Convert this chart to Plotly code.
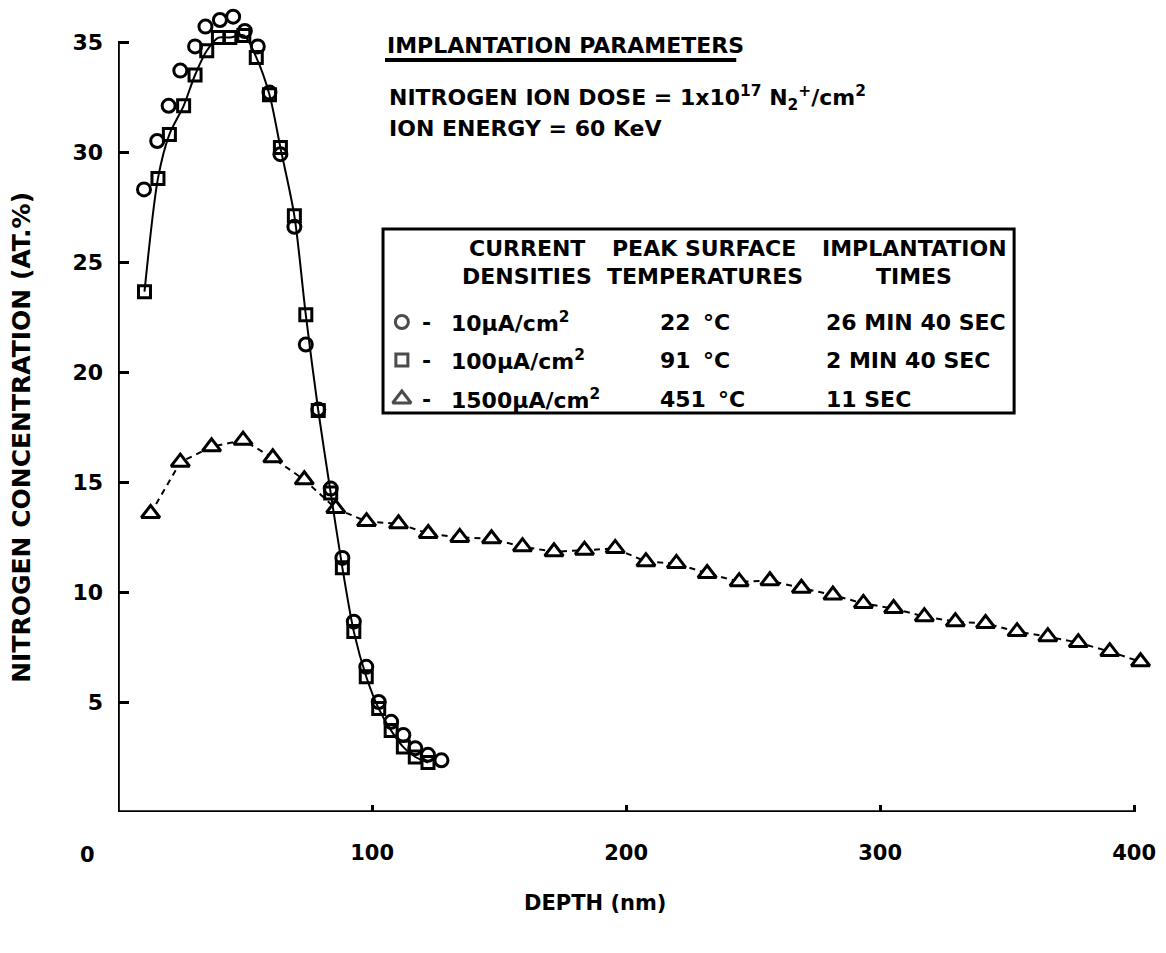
import plotly.graph_objects as go

W, H = 1166, 953

# Depth profiles: depth (nm) vs nitrogen concentration (at.%)
depth_10 = [10.2, 15.4, 19.9, 24.5, 30.3, 34.4, 40.1, 45.3, 49.9, 55.0, 59.6, 63.9,
            69.4, 73.9, 78.8, 83.7, 88.3, 92.8, 97.7, 102.6, 107.5, 112.3, 117.0,
            122.0, 127.3]
conc_10 = [28.3, 30.5, 32.1, 33.7, 34.8, 35.7, 36.0, 36.15, 35.5, 34.8, 32.7, 29.9,
           26.6, 21.25, 18.3, 14.7, 11.55, 8.65, 6.6, 5.0, 4.1, 3.5, 2.9, 2.6, 2.35]

depth_100 = [10.4, 15.7, 20.2, 25.8, 30.3, 34.9, 39.5, 44.0, 49.5, 54.4, 59.6, 63.9,
             69.4, 73.9, 78.8, 83.7, 88.3, 92.8, 97.7, 102.6, 107.5, 112.3, 117.0,
             122.0]
conc_100 = [23.65, 28.8, 30.8, 32.1, 33.5, 34.6, 35.2, 35.2, 35.3, 34.3, 32.6, 30.2,
            27.1, 22.6, 18.25, 14.5, 11.1, 8.2, 6.15, 4.7, 3.7, 2.95, 2.5, 2.25]

depth_1500 = [12.8, 24.5, 36.8, 49.2, 60.9, 73.3, 85.7, 97.8, 110.4, 122.1, 134.5,
              147.0, 159.2, 171.6, 183.6, 195.7, 207.8, 219.8, 231.9, 244.5, 256.6,
              269.0, 281.4, 293.4, 305.3, 317.4, 329.6, 341.5, 353.9, 366.0, 378.0,
              390.4, 402.5]
conc_1500 = [13.57, 15.9, 16.6, 16.9, 16.1, 15.1, 13.8, 13.2, 13.1, 12.66, 12.48,
             12.42, 12.06, 11.83, 11.9, 11.98, 11.38, 11.3, 10.84, 10.47, 10.51,
             10.17, 9.86, 9.48, 9.25, 8.88, 8.65, 8.57, 8.2, 7.97, 7.7, 7.29, 6.83]

x_ticks = [100, 200, 300, 400]
y_ticks = [5, 10, 15, 20, 25, 30, 35]

# Legend table rows
densities = ["10μA/cm<sup>2</sup>", "100μA/cm<sup>2</sup>", "1500μA/cm<sup>2</sup>"]
temps = ["22", "91", "451"]
times = ["26 MIN 40 SEC", "2 MIN 40 SEC", "11 SEC"]
symbols = ["circle-open", "square-open", "triangle-up"]

FONT = "DejaVu Sans"
INK = "black"


def px(x):
    return x / W


def py(y):
    return 1 - y / H


# plot area in pixels
X0_PX = 119
X_SCALE = 2.56           # px per nm
Y0_PX, Y1_PX = 812, 9
x_range = [0, 405]
y_range = [0, 36.5]
X1_PX = X0_PX + X_SCALE * (x_range[1] - x_range[0])

fig = go.Figure()

fig.add_trace(go.Scatter(
    x=depth_1500, y=conc_1500, mode="lines+markers", cliponaxis=False,
    line=dict(color=INK, width=2, dash="6px,5px"),
    marker=dict(symbol="triangle-up", size=16, color="white",
                line=dict(color=INK, width=3)),
    showlegend=False,
))
fig.add_trace(go.Scatter(
    x=depth_100, y=conc_100, mode="lines+markers", cliponaxis=False,
    line=dict(color=INK, width=2, shape="spline", smoothing=0.8),
    marker=dict(symbol="square-open", size=12, color=INK, line=dict(width=3)),
    showlegend=False,
))
fig.add_trace(go.Scatter(
    x=depth_10, y=conc_10, mode="markers", cliponaxis=False,
    marker=dict(symbol="circle-open", size=13, color=INK, line=dict(width=3)),
    showlegend=False,
))

# legend symbols in a pixel-space overlay
row_y = [322, 360, 399]
fig.add_trace(go.Scatter(
    x=[405] * 3, y=row_y, mode="markers", xaxis="x2", yaxis="y2",
    marker=dict(symbol=symbols, size=[13, 12, 16],
                color=[INK, INK, "white"], line=dict(color=INK, width=3)),
    showlegend=False, hoverinfo="skip",
))

fig.update_layout(
    width=W, height=H,
    margin=dict(l=0, r=0, t=0, b=0),
    paper_bgcolor="white", plot_bgcolor="rgba(0,0,0,0)",
    xaxis=dict(domain=[px(X0_PX), px(X1_PX)], range=x_range,
               tickvals=x_ticks, ticks="inside", ticklen=7, tickwidth=2.5,
               tickcolor=INK, showgrid=False, zeroline=False, showline=False,
               tickfont=dict(family=FONT, size=21, color=INK, weight="bold"),
               ticklabelstandoff=26, ticklabeloverflow="allow"),
    yaxis=dict(domain=[py(Y0_PX), py(Y1_PX)], range=y_range,
               tickvals=y_ticks, ticks="inside", ticklen=11, tickwidth=3,
               tickcolor=INK, showgrid=False, zeroline=False, showline=False,
               tickfont=dict(family=FONT, size=22, color=INK, weight="bold"),
               ticklabelstandoff=14, ticklabeloverflow="allow"),
    xaxis2=dict(domain=[0, 1], range=[0, W], visible=False, anchor="y2"),
    yaxis2=dict(domain=[0, 1], range=[H, 0], visible=False, anchor="x2"),
)

# axis lines ending at 400 nm and 35 at.%
fig.add_shape(type="line", xref="x", yref="y", x0=0, x1=400, y0=0, y1=0,
              line=dict(color=INK, width=3.5))
fig.add_shape(type="line", xref="x", yref="y", x0=0, x1=0, y0=0, y1=35,
              line=dict(color=INK, width=3.5))

# legend box and heading underline
fig.add_shape(type="rect", xref="paper", yref="paper",
              x0=px(386), x1=px(1022), y0=py(413), y1=py(229),
              line=dict(color=INK, width=3))
fig.add_shape(type="line", xref="paper", yref="paper",
              x0=px(388), x1=px(742), y0=py(60), y1=py(60),
              line=dict(color=INK, width=4))


def note(text, x, y, size=22, anchor="left", angle=0):
    fig.add_annotation(text=text, x=px(x), y=py(y), xref="paper", yref="paper",
                       xanchor=anchor, yanchor="middle", showarrow=False,
                       textangle=angle,
                       font=dict(family=FONT, size=size, color=INK, weight="bold"))


note("0", 88, 855, size=21, anchor="center")
note("DEPTH (nm)", 600, 903, size=21, anchor="center")
note("NITROGEN CONCENTRATION (AT.%)", 22, 437, size=25, anchor="center", angle=-90)

note("IMPLANTATION PARAMETERS", 388, 45)
note("NITROGEN ION DOSE = 1x10<sup>17</sup> N<sub>2</sub><sup>+</sup>/cm<sup>2</sup>",
     390, 98)
note("ION ENERGY = 60 KeV", 390, 128)

note("CURRENT", 531, 248, anchor="center")
note("DENSITIES", 531, 276, anchor="center")
note("PEAK SURFACE", 709, 248, anchor="center")
note("TEMPERATURES", 710, 276, anchor="center")
note("IMPLANTATION", 922, 248, anchor="center")
note("TIMES", 921, 276, anchor="center")

for yy, dens, temp, tm in zip(row_y, densities, temps, times):
    note("-", 430, yy, anchor="center")
    note(dens, 452, yy)
    note(temp, 663, yy)
    note("°C", 722 if temp == "451" else 706, yy)
    note(tm, 830, yy)

fig.write_html("out.html")
